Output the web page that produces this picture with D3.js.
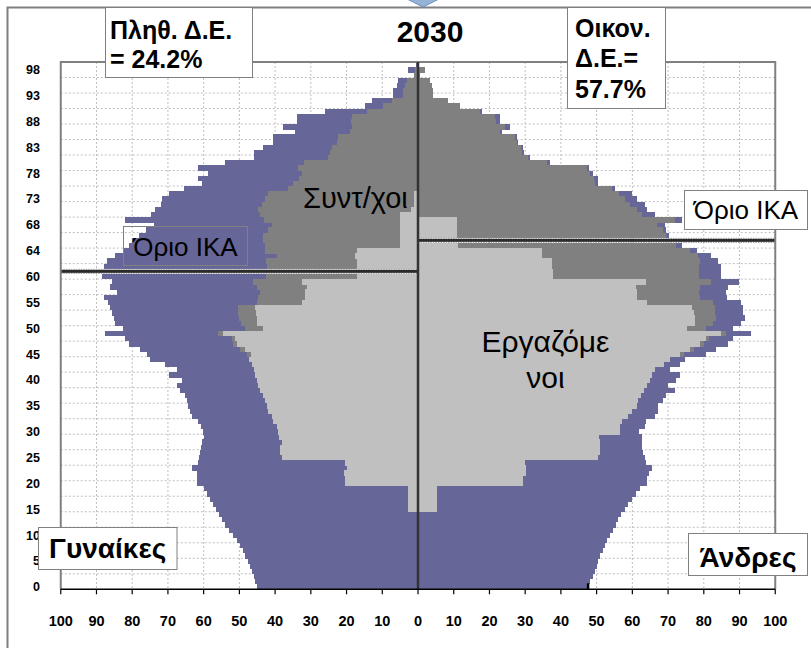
<!DOCTYPE html>
<html>
<head>
<meta charset="utf-8">
<script src="https://cdn.jsdelivr.net/npm/d3@7"></script>
<style>
  body { margin: 0; background: #fff; }
  text { font-family: Arial, "Liberation Sans", sans-serif; }
</style>
</head>
<body>
<div id="chart"></div>
<script>
// age rows, bottom to top; the two "ΙΚΑ" rows hold the retirement-age lines
const ages = ["0","1","2","3","4","5","6","7","8","9","10","11","12","13","14","15","16","17","18","19",
  "20","21","22","23","24","25","26","27","28","29","30","31","32","33","34","35","36","37","38","39",
  "40","41","42","43","44","45","46","47","48","49","50","51","52","53","54","55","56","57","58","59",
  "60","ΙΚΑ-Γ","61","62","63","64","65","ΙΚΑ-Α","66","67","68","69","70","71","72","73","74","75","76",
  "77","78","79","80","81","82","83","84","85","86","87","88","89","90","91","92","93","94","95","96",
  "97","98","99"];

// women (left)
const womenTotal = [45.0,45.5,46.0,46.5,47.0,47.7,48.3,49.0,49.7,50.6,
  51.7,52.8,54.0,55.0,55.8,56.5,57.5,58.3,59.2,60.0,
  61.9,62.0,61.8,63.2,61.5,61.2,61.0,60.8,60.5,60.0,
  60.2,60.8,61.7,63.3,63.8,64.3,64.7,65.2,66.6,67.5,
  66.1,69.8,67.5,70.8,75.0,75.9,77.8,81.0,81.9,87.6,
  82.6,84.8,85.2,85.7,86.3,86.9,88.0,84.3,86.3,85.7,
  88.5,null,88.0,87.0,84.8,82.4,81.0,80.0,78.2,76.0,
  74.0,82.0,74.6,73.5,71.8,71.7,69.8,65.6,60.5,61.5,
  58.7,61.5,54.0,45.8,45.8,43.5,40.5,40.5,34.4,37.7,
  33.9,33.9,26.0,14.8,13.0,6.9,6.9,6.0,5.5,1.2,
  2.9,0.5];
const womenWorkers = [0,0,0,0,0,0,0,0,0,0,
  0,0,0,0,0,2.7,2.7,2.7,2.7,2.7,
  20.4,20.4,20.8,20.0,20.4,38.2,38.5,38.5,38.0,38.8,
  39.2,39.6,40.5,41.0,41.9,42.4,42.8,43.3,44.2,44.7,
  45.1,45.6,46.0,46.5,47.4,46.8,48.4,50.7,51.2,54.6,
  43.3,45.1,45.1,45.3,45.6,32.5,31.6,31.6,31.1,32.5,
  17.0,null,17.2,17.2,17.5,17.2,5.0,5.0,5.0,5.0,
  5.0,5.0,5.0,2.0,1.0,1.0,1.0,0,0,0,
  0,0,0,0,0,0,0,0,0,0,
  0,0,0,0,0,0,0,0,0,0,
  0,0];
const womenPensioners = [0,0,0,0,0,0,0,0,0,0,
  0,0,0,0,0,0,0,0,0,0,
  0,0,0,0,0,0,0,0,0,0,
  0,0,0,0,0,0,0,0,0,0,
  0,0,0,0,0,1.2,1.4,1.0,1.0,1.3,
  5.2,4.4,4.9,5.0,4.9,12.6,13.1,12.6,14.0,13.7,
  25.5,null,25.1,25.4,22.0,25.6,37.8,38.3,38.3,36.9,
  36.0,38.0,39.2,42.7,42.7,41.8,40.9,36.3,34.9,33.4,
  32.5,33.7,32.0,25.1,24.6,24.2,22.7,22.3,19.0,18.5,
  18.7,18.5,14.4,9.7,7.4,4.1,4.1,3.6,3.2,1.0,
  0.8,0.3];

// men (right)
const menTotal = [47.6,48.1,48.9,49.5,50.0,50.5,51.0,51.7,52.3,53.0,
  53.7,54.6,55.4,56.0,56.9,57.9,58.8,59.8,61.0,62.1,
  64.2,64.2,64.7,65.4,63.8,63.5,63.0,62.8,62.8,62.6,
  61.9,63.5,63.9,66.3,67.2,67.2,68.6,69.5,71.9,70.0,
  72.2,73.3,70.5,73.3,74.7,80.7,83.5,86.8,88.2,93.3,
  88.2,90.5,91.4,91.0,91.0,90.5,86.5,86.3,86.8,89.9,
  84.9,84.9,84.9,84.0,82.1,78.0,73.8,null,70.3,69.5,
  69.1,73.8,66.3,64.0,63.5,61.2,59.8,55.1,50.4,50.4,
  49.0,47.8,36.9,31.3,29.7,29.5,28.1,27.6,23.6,25.7,
  22.9,22.9,17.8,11.7,8.5,4.3,4.3,3.8,3.4,0.5,
  2.0,0.3];
const menWorkers = [0,0,0,0,0,0,0,0,0,0,
  0,0,0,0,0,5.2,5.2,5.2,5.2,5.2,
  29.3,29.3,30.3,30.3,29.9,50.4,50.9,50.9,50.9,50.6,
  56.5,56.5,57.0,58.8,60.0,61.3,61.6,62.5,63.4,64.2,
  65.0,65.6,66.4,68.9,70.5,73.3,76.0,78.8,80.5,84.9,
  75.2,77.5,77.6,77.3,76.6,64.2,61.4,61.3,60.9,63.7,
  37.8,37.7,37.6,37.4,34.6,34.6,11.3,null,10.8,10.8,
  10.8,10.8,0,0,0,0,0,0,0,0,
  0,0,0,0,0,0,0,0,0,0,
  0,0,0,0,0,0,0,0,0,0,
  0,0];
const menPensioners = [0,0,0,0,0,0,0,0,0,0,
  0,0,0,0,0,0,0,0,0,0,
  0,0,0,0,0,0,0,0,0,0,
  0,0,0,0,0,0,0,0,0,0,
  0,0,0,0,0,1.1,1.2,1.2,1.0,1.3,
  5.5,5.1,5.8,5.9,6.4,18.4,17.5,17.4,18.1,18.4,
  40.8,41.0,41.1,41.5,43.9,41.5,60.9,null,58.7,57.8,
  56.2,61.2,62.6,61.2,59.3,57.9,56.2,54.2,49.5,49.3,
  48.1,47.2,36.0,30.7,29.0,28.8,27.6,27.1,22.9,24.3,
  21.9,21.5,17.3,11.7,8.5,4.3,4.3,3.8,3.4,0.5,
  2.0,0.3];

const xTicks = [0, 10, 20, 30, 40, 50, 60, 70, 80, 90, 100];
const limitRows = ["ΙΚΑ-Γ", "ΙΚΑ-Α"];

const width = 811, height = 648;
const cx = 418, half = 357.25;
const plotTop = 62, plotBottom = 589.3;
const purple = "#666699", dark = "#808080", light = "#c0c0c0";

const svg = d3.select('#chart').append('svg')
  .attr('width', width).attr('height', height);

svg.append('rect').attr('width', width).attr('height', height).attr('fill', '#fff');

const y = d3.scaleBand().domain(d3.range(ages.length)).range([plotBottom, plotTop]).padding(0);
const xW = d3.scaleLinear().domain([0, 100]).range([cx, cx - half]);
const xM = d3.scaleLinear().domain([0, 100]).range([cx, cx + half]);
const bw = y.bandwidth();

// outer chart border
svg.append('rect')
  .attr('x', 7.5).attr('y', 7.5).attr('width', 840).attr('height', 700)
  .attr('fill', 'none').attr('stroke', '#7f7f7f').attr('stroke-width', 2);

// top arrow piece
svg.append('polygon')
  .attr('points', '405,-2 441,-2 423,7')
  .attr('fill', '#95b3d7').attr('stroke', '#6c8ebf').attr('stroke-width', 1);

// gridlines
const grid = svg.append('g')
  .attr('stroke', '#bfbfbf').attr('stroke-width', 1).attr('stroke-dasharray', '2,2');
xTicks.filter(t => t > 0 && t < 100).forEach(t => {
  [xW(t), xM(t)].forEach(gx => {
    grid.append('line')
      .attr('x1', gx).attr('x2', gx).attr('y1', plotTop).attr('y2', plotBottom);
  });
});
d3.range(ages.length).filter(i => i > 0 && i % 3 === 0).forEach(i => {
  const gy = y(i) + bw;
  grid.append('line')
    .attr('x1', xW(100)).attr('x2', xM(100)).attr('y1', gy).attr('y2', gy);
});

// bars
function drawSide(values, scale, color, cls) {
  const rows = values.map((v, i) => ({ i, v })).filter(d => d.v != null && d.v > 0);
  svg.append('g').selectAll('.' + cls)
    .data(rows)
    .enter()
    .append('rect')
    .attr('class', cls)
    .attr('x', d => Math.min(scale(0), scale(d.v)))
    .attr('y', d => y(d.i))
    .attr('width', d => Math.abs(scale(d.v) - scale(0)))
    .attr('height', bw + 0.3)
    .attr('fill', color)
    .attr('shape-rendering', 'crispEdges');
}
const womenRetired = womenWorkers.map((w, i) => w == null ? null : w + womenPensioners[i]);
const menRetired = menWorkers.map((w, i) => w == null ? null : w + menPensioners[i]);

drawSide(womenTotal, xW, purple, 'wt');
drawSide(menTotal, xM, purple, 'mt');
drawSide(womenRetired, xW, dark, 'wp');
drawSide(menRetired, xM, dark, 'mp');
drawSide(womenWorkers, xW, light, 'ww');
drawSide(menWorkers, xM, light, 'mw');

// retirement-age lines
limitRows.forEach((r, k) => {
  const i = ages.indexOf(r);
  const x1 = k === 0 ? xW(100) : cx;
  const x2 = k === 0 ? cx : xM(100);
  const g = svg.append('g');
  [y(i) + 0.5, y(i) + bw - 0.5].forEach(ly => {
    g.append('line').attr('x1', x1).attr('x2', x2).attr('y1', ly).attr('y2', ly)
      .attr('stroke', '#a6a6a6').attr('stroke-width', 1).attr('stroke-dasharray', '1.5,1');
  });
  g.append('rect').attr('x', x1).attr('y', y(i) + bw / 2 - 1.5)
    .attr('width', x2 - x1).attr('height', 3).attr('fill', '#2b2b2b');
});

// plot border
svg.append('path')
  .attr('d', `M${xW(100)},${plotBottom}V${plotTop}H${xM(100)}V${plotBottom}`)
  .attr('fill', 'none').attr('stroke', '#808080').attr('stroke-width', 2);

// centre axis
svg.append('line')
  .attr('x1', cx).attr('x2', cx).attr('y1', plotTop).attr('y2', plotBottom)
  .attr('stroke', '#333').attr('stroke-width', 2.5);

// x axis
svg.append('line')
  .attr('x1', xW(100)).attr('x2', xM(100)).attr('y1', plotBottom).attr('y2', plotBottom)
  .attr('stroke', '#000').attr('stroke-width', 1.5);

const tickPos = xTicks.filter(t => t > 0).map(t => ({ t, x: xW(t) }))
  .concat(xTicks.map(t => ({ t, x: xM(t) })));
svg.append('g').selectAll('line')
  .data(tickPos).enter().append('line')
  .attr('x1', d => d.x).attr('x2', d => d.x)
  .attr('y1', plotBottom).attr('y2', plotBottom + 5)
  .attr('stroke', '#000').attr('stroke-width', 1.2);
svg.append('g').selectAll('text')
  .data(tickPos).enter().append('text')
  .attr('x', d => d.x).attr('y', 626)
  .attr('text-anchor', 'middle')
  .style('font-size', '14.5px').style('font-weight', 'bold')
  .text(d => d.t);

// men age-0 marker
svg.append('rect')
  .attr('x', xM(menTotal[0]) - 1.2).attr('y', plotBottom - 6)
  .attr('width', 2.5).attr('height', 6.5).attr('fill', '#000');

// y tick labels
svg.append('g').selectAll('text')
  .data(d3.range(ages.length).filter(i => i % 5 === 0))
  .enter().append('text')
  .attr('x', 40).attr('y', i => y(i) + bw / 2 + 4.5)
  .attr('text-anchor', 'end')
  .style('font-size', '12.5px').style('font-weight', 'bold')
  .text(i => ages[i]);

// text boxes
function box(x, yy, w, h, fill) {
  svg.append('rect').attr('x', x).attr('y', yy).attr('width', w).attr('height', h)
    .attr('fill', fill).attr('stroke', '#808080').attr('stroke-width', 1);
}
function label(txt, x, yy, size, weight, anchor) {
  svg.append('text').attr('x', x).attr('y', yy)
    .attr('text-anchor', anchor || 'start')
    .style('font-size', size + 'px').style('font-weight', weight)
    .text(txt);
}

label('2030', 430, 42, 30, 'bold', 'middle');

box(105.5, 7.5, 147, 70, '#fff');
label('Πληθ. Δ.Ε.', 110, 39, 25, 'bold');
label('= 24.2%', 110, 67.5, 25, 'bold');

box(567.5, 7.5, 98, 101, '#fff');
label('Οικον.', 575, 37, 25, 'bold');
label('Δ.Ε.=', 575, 67, 25, 'bold');
label('57.7%', 575, 98, 25, 'bold');

box(684.5, 190.5, 123, 39, '#fff');
label('Όριο ΙΚΑ', 746, 218.5, 26, 'normal', 'middle');

box(123.5, 226.5, 124, 39, 'none');
label('Όριο ΙΚΑ', 185.5, 255.5, 26, 'normal', 'middle');

label('Συντ/χοι', 303, 208.3, 29, 'normal');
label('Εργαζόμε', 545.5, 351.7, 30, 'normal', 'middle');
label('νοι', 545.5, 388.3, 30, 'normal', 'middle');

box(38.5, 527.5, 138.5, 42, '#fff');
label('Γυναίκες', 107.7, 558.3, 28, 'bold', 'middle');

box(688.5, 533.5, 119, 42, '#fff');
label('Άνδρες', 748, 566.5, 28, 'bold', 'middle');
</script>
</body>
</html>
